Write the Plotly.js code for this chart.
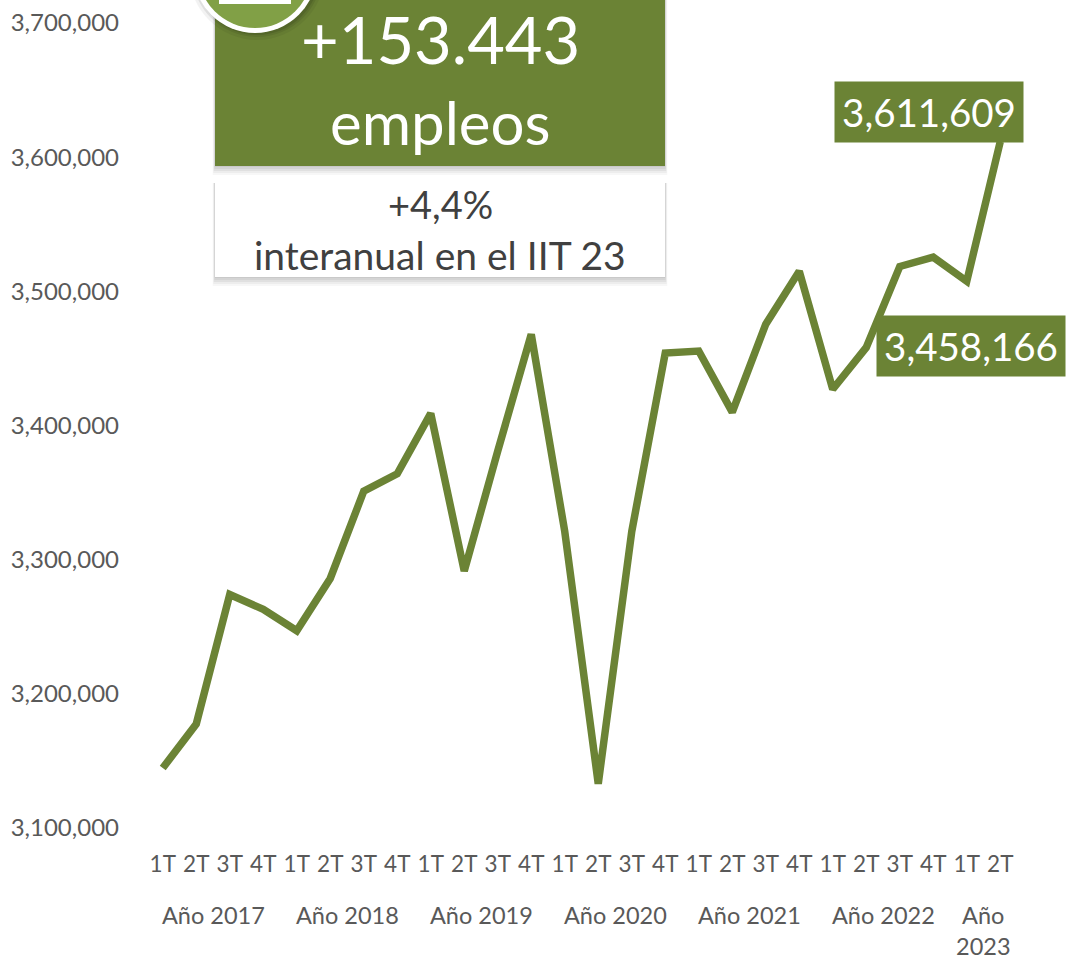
<!DOCTYPE html>
<html><head><meta charset="utf-8">
<script src="https://cdn.plot.ly/plotly-3.0.1.min.js"></script>
<style>html,body{margin:0;padding:0;background:#fff}#c{width:1069px;height:959px}</style>
</head><body><div id="c"></div>
<script>
const quarters=["1T","2T","3T","4T","1T","2T","3T","4T","1T","2T","3T","4T","1T","2T","3T","4T","1T","2T","3T","4T","1T","2T","3T","4T","1T","2T"];
const values=[3144700,3177500,3274000,3263000,3247000,3286000,3351000,3364000,3409000,3291500,3381000,3468000,3321000,3133000,3321000,3454000,3455500,3410000,3475500,3515000,3427000,3458166,3518500,3525500,3507500,3611609];
const years=["Año 2017","Año 2018","Año 2019","Año 2020","Año 2021","Año 2022","Año<br>2023"];
const yearCentres=[1.5,5.5,9.5,13.5,17.5,21.5,24.5];
const yTicks=[3100000,3200000,3300000,3400000,3500000,3600000,3700000];
const labelledIdx=[25,21];
const W=1069,H=959,GREEN="#6b8335",FONT="Lato, Carlito, sans-serif";
const M={l:146,r:52,t:23,b:131};
const fx=x=>(x-M.l)/(W-M.l-M.r), fy=y=>(H-M.b-y)/(H-M.t-M.b);
function rect(x0,y0,x1,y1,fill,op){return {type:'rect',xref:'paper',yref:'paper',x0:fx(x0),x1:fx(x1),y0:fy(y0),y1:fy(y1),fillcolor:fill,opacity:op===undefined?1:op,line:{width:0},layer:'above'};}
function circ(cx,cy,r,fill,op){return {type:'circle',xref:'paper',yref:'paper',x0:fx(cx-r),x1:fx(cx+r),y0:fy(cy+r),y1:fy(cy-r),fillcolor:fill,opacity:op===undefined?1:op,line:{width:0},layer:'above'};}
const shapes=[];
[[9,0.03],[7,0.04],[5,0.05],[3,0.05],[1,0.05]].forEach(([d,o])=>{
  const s=d*0.25;
  shapes.push(rect(215-s,0,665+s,166+d,"#000",o));
  shapes.push(rect(215-s,183,665+s,277+d,"#000",o));
});
shapes.push(rect(215,0,665,166,GREEN));
shapes.push(rect(215,177,665,277,"#ffffff"));
[[6,0.05],[3,0.08],[1,0.1]].forEach(([d,o])=>shapes.push(circ(257,-28,62+d,"#000",o)));
shapes.push(circ(255,-29,62,"#ffffff"));
shapes.push(circ(255,-29,57,"#81a046"));
shapes.push(rect(219,-30,291,4,"#ffffff"));
function txt(text,x,y,size,color){return {xref:'paper',yref:'paper',x:fx(x),y:fy(y),text:text,showarrow:false,xanchor:'center',yanchor:'middle',font:{family:FONT,size:size,color:color}};}
const annotations=[
 txt("+153.443",440,39.5,65,"#fff"),
 txt("empleos",440,122,60,"#fff"),
 txt("+4,4%",440,204,38,"#404040"),
 txt("interanual en el IIT 23",440,255,39,"#404040")
];
const boxPos={25:{cx:929,cy:112},21:{cx:971,cy:346}};
labelledIdx.forEach(i=>{
  const p=boxPos[i];
  annotations.push({xref:'paper',yref:'paper',x:fx(p.cx),y:fy(p.cy),text:values[i].toLocaleString('en-US'),showarrow:false,xanchor:'center',yanchor:'middle',width:188,height:60,align:'center',valign:'middle',bgcolor:GREEN,borderpad:0,font:{family:FONT,size:38.5,color:'#fff'}});
});
years.forEach((t,i)=>annotations.push({xref:'x',yref:'paper',x:yearCentres[i],y:fy(899),yanchor:'top',xanchor:'center',text:t,showarrow:false,align:'center',font:{family:FONT,size:23.5,color:'#595959'}}));
const xIdx=quarters.map((q,i)=>i);
Plotly.newPlot('c',[{type:'scatter',mode:'lines',x:xIdx,y:values,line:{color:GREEN,width:7.5,shape:'linear',simplify:false},hoverinfo:'skip',cliponaxis:false}],{
 width:W,height:H,margin:M,paper_bgcolor:'#fff',plot_bgcolor:'#fff',showlegend:false,
 xaxis:{range:[-0.5,25.5],tickmode:'array',tickvals:xIdx,ticktext:quarters,tickangle:0,showgrid:false,zeroline:false,showline:false,ticks:'',ticklabelstandoff:20,tickfont:{family:FONT,size:22.5,color:'#595959'},automargin:false},
 yaxis:{range:[3100000,3700000],tickmode:'array',tickvals:yTicks,ticktext:yTicks.map(v=>v.toLocaleString('en-US')),showgrid:false,zeroline:false,showline:false,ticks:'',ticklabelstandoff:26,tickfont:{family:FONT,size:24,color:'#595959'},automargin:false},
 shapes:shapes,annotations:annotations
},{displayModeBar:false,staticPlot:true});
</script></body></html>
